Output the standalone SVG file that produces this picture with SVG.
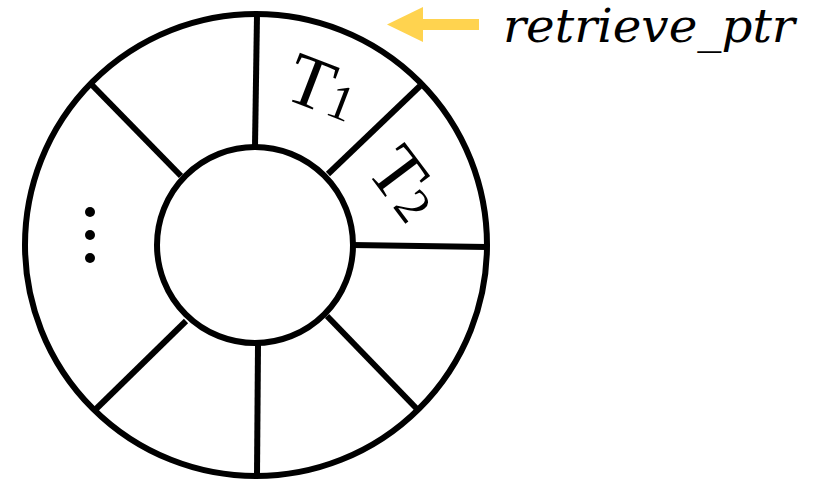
<svg xmlns="http://www.w3.org/2000/svg" width="817" height="482" viewBox="0 0 817 482">
<style>
.ring{fill:none;stroke:#000;stroke-width:6}
.spoke{stroke:#000;stroke-width:6;fill:none}
.lbl{font-family:"Liberation Serif","DejaVu Serif",serif;fill:#000}
.ptr{font-family:"DejaVu Serif","Liberation Serif",serif;font-style:italic;fill:#000}
</style>
<rect width="817" height="482" fill="#fff"/>
<g id="ring">
<circle class="ring" cx="256" cy="245" r="231"/>
</g>
<g id="connectors">
<line class="spoke" x1="255" y1="146" x2="257" y2="15"/>
<line class="spoke" x1="328" y1="174" x2="420" y2="86"/>
<line class="spoke" x1="352" y1="245" x2="487" y2="247"/>
<line class="spoke" x1="327" y1="316" x2="417" y2="409"/>
<line class="spoke" x1="258" y1="345" x2="257" y2="475"/>
<line class="spoke" x1="186" y1="321" x2="96" y2="409"/>
<line class="spoke" x1="181" y1="176" x2="92" y2="85"/>
</g>
<g id="hub">
<circle class="ring" cx="255" cy="245" r="98" fill="#fff"/>
</g>
<g id="slot-t1">
<text class="lbl" x="0" y="0" font-size="74" text-anchor="middle" transform="translate(314,110) rotate(21)">T<tspan font-size="50">1</tspan></text>
</g>
<g id="slot-t2">
<text class="lbl" x="0" y="0" font-size="74" text-anchor="middle" transform="translate(386,198) rotate(53)">T<tspan font-size="50">2</tspan></text>
</g>
<g id="dots">
<circle cx="90" cy="212" r="5"/>
<circle cx="90" cy="235" r="5"/>
<circle cx="90" cy="258" r="5"/>
</g>
<g id="pointer">
<polygon points="387,24.5 423,7 423,42" fill="#FFD34F"/>
<rect x="422" y="19" width="57" height="11" fill="#FFD34F"/>
<text class="ptr" x="503" y="42" font-size="46" textLength="292" lengthAdjust="spacingAndGlyphs">retrieve_ptr</text>
</g>
</svg>
